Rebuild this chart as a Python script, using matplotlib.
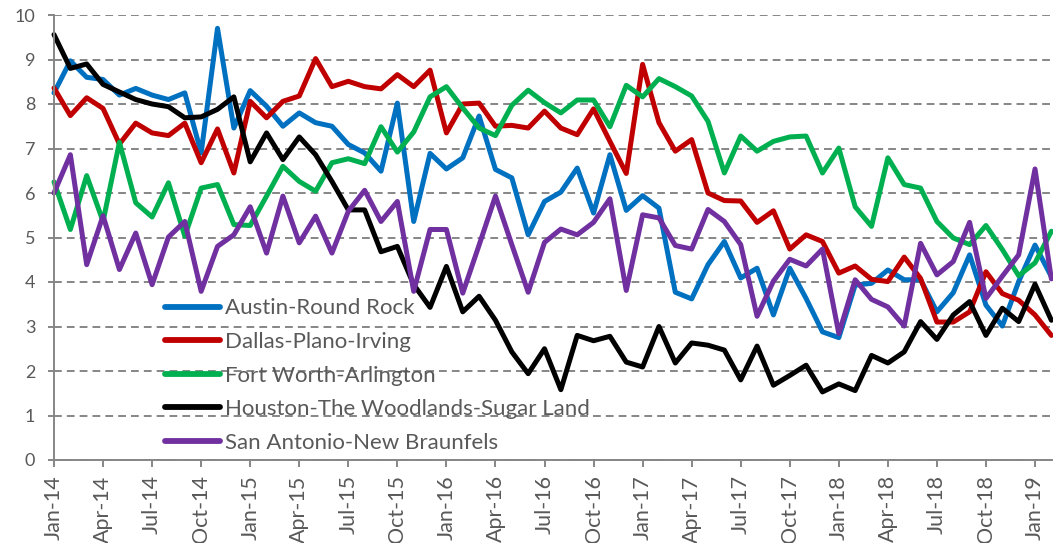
import matplotlib

matplotlib.use("Agg")
import matplotlib.pyplot as plt
import numpy as np


# monthly values, Jan-14 .. Feb-19
months = [f"{m}-{y:02d}" for y in range(14, 20) for m in
          ["Jan", "Feb", "Mar", "Apr", "May", "Jun", "Jul", "Aug", "Sep", "Oct", "Nov", "Dec"]][:62]

austin = [8.25, 8.97, 8.6, 8.55, 8.2, 8.35, 8.2, 8.1, 8.25, 6.9, 9.7, 7.46,
          8.3, 7.95, 7.5, 7.8, 7.58, 7.5, 7.09, 6.9, 6.49, 8.02, 5.36, 6.89,
          6.54, 6.79, 7.73, 6.53, 6.34, 5.06, 5.81, 6.02, 6.56, 5.55, 6.86, 5.61,
          5.94, 5.66, 3.77, 3.62, 4.39, 4.91, 4.09, 4.31, 3.26, 4.31, 3.63, 2.88,
          2.75, 3.93, 3.97, 4.27, 4.05, 4.05, 3.33, 3.76, 4.61, 3.48, 3.01, 4.01,
          4.83, 4.12]
dallas = [8.36, 7.74, 8.14, 7.9, 7.1, 7.57, 7.35, 7.29, 7.57, 6.68, 7.44, 6.45,
          8.06, 7.69, 8.06, 8.18, 9.02, 8.39, 8.51, 8.39, 8.34, 8.66, 8.39, 8.76,
          7.35, 8.0, 8.02, 7.5, 7.52, 7.46, 7.84, 7.46, 7.31, 7.89, 7.16, 6.44,
          8.89, 7.58, 6.94, 7.2, 6.0, 5.83, 5.82, 5.34, 5.6, 4.74, 5.06, 4.91,
          4.2, 4.36, 4.06, 4.01, 4.56, 4.08, 3.1, 3.1, 3.33, 4.23, 3.74, 3.59,
          3.26, 2.8]
fort_worth = [6.25, 5.18, 6.39, 5.36, 7.14, 5.78, 5.46, 6.23, 5.03, 6.11, 6.19, 5.29,
              5.27, 5.93, 6.6, 6.26, 6.04, 6.68, 6.77, 6.66, 7.49, 6.92, 7.37, 8.16,
              8.39, 7.91, 7.46, 7.29, 7.97, 8.31, 8.03, 7.8, 8.09, 8.09, 7.49, 8.42,
              8.16, 8.57, 8.39, 8.18, 7.61, 6.45, 7.28, 6.94, 7.16, 7.26, 7.28, 6.45,
              7.01, 5.69, 5.25, 6.79, 6.19, 6.11, 5.36, 4.99, 4.84, 5.27, 4.73, 4.14,
              4.43, 5.14]
houston = [9.56, 8.8, 8.9, 8.44, 8.27, 8.1, 8.0, 7.94, 7.69, 7.71, 7.88, 8.16,
           6.7, 7.35, 6.75, 7.26, 6.86, 6.26, 5.62, 5.62, 4.68, 4.8, 3.94, 3.43,
           4.35, 3.33, 3.68, 3.14, 2.43, 1.94, 2.5, 1.58, 2.8, 2.68, 2.78, 2.2,
           2.09, 3.0, 2.18, 2.63, 2.58, 2.47, 1.8, 2.56, 1.68, 1.9, 2.13, 1.53,
           1.71, 1.56, 2.35, 2.18, 2.43, 3.11, 2.71, 3.26, 3.56, 2.8, 3.41, 3.11,
           3.95, 3.14]
san_antonio = [6.0, 6.86, 4.39, 5.49, 4.28, 5.1, 3.94, 5.01, 5.36, 3.79, 4.8, 5.06,
               5.69, 4.65, 5.93, 4.88, 5.48, 4.65, 5.59, 6.06, 5.36, 5.81, 3.79, 5.18,
               5.18, 3.75, 4.83, 5.93, 4.84, 3.77, 4.89, 5.19, 5.06, 5.34, 5.87, 3.81,
               5.51, 5.44, 4.82, 4.74, 5.63, 5.36, 4.84, 3.23, 4.02, 4.51, 4.36, 4.74,
               2.84, 4.05, 3.61, 3.44, 3.01, 4.87, 4.16, 4.46, 5.34, 3.63, 4.13, 4.61,
               6.54, 4.07]

series = [
    ("Austin-Round Rock", austin, "#0070C0"),
    ("Dallas-Plano-Irving", dallas, "#C00000"),
    ("Fort Worth-Arlington", fort_worth, "#00B050"),
    ("Houston-The Woodlands-Sugar Land", houston, "#000000"),
    ("San Antonio-New Braunfels", san_antonio, "#7030A0"),
]

TEXT = "#595959"
GRID = "#868686"

plt.rcParams["font.family"] = ["Lato", "DejaVu Sans"]

fig = plt.figure(figsize=(10.53, 5.43), dpi=100)
ax = fig.add_axes([54 / 1053, 83 / 543, 999 / 1053, 445 / 543])

x = np.arange(len(months))
for name, values, color in series:
    ax.plot(x, values, color=color, linewidth=3.6, label=name,
            solid_joinstyle="round", solid_capstyle="round", clip_on=False)

ax.set_xlim(0, 61.1)
ax.set_ylim(0, 10)
ax.set_yticks(range(0, 11))
ax.set_xticks(x[::3])
ax.set_xticklabels(months[::3], rotation=90)

ax.grid(axis="y", color=GRID, linewidth=1.4, linestyle=(0, (4, 2.6)))
ax.set_axisbelow(True)
for side in ["top", "right"]:
    ax.spines[side].set_visible(False)
for side in ["left", "bottom"]:
    ax.spines[side].set_color(GRID)
    ax.spines[side].set_linewidth(1.4)
ax.tick_params(axis="y", colors=TEXT, labelsize=13, length=4.5, width=1.4, color=GRID, pad=9)
ax.tick_params(axis="x", colors=TEXT, labelsize=15.5, length=5, width=1.4, color=GRID, pad=6)

leg = ax.legend(loc="lower left", bbox_to_anchor=(0.1022, -0.0036), frameon=False,
                fontsize=16, handlelength=2.48, labelspacing=0.61, handletextpad=0.23,
                borderaxespad=0)
for t in leg.get_texts():
    t.set_color(TEXT)
for line in leg.get_lines():
    line.set_linewidth(4.2)

fig.savefig("out.png", dpi=100)
